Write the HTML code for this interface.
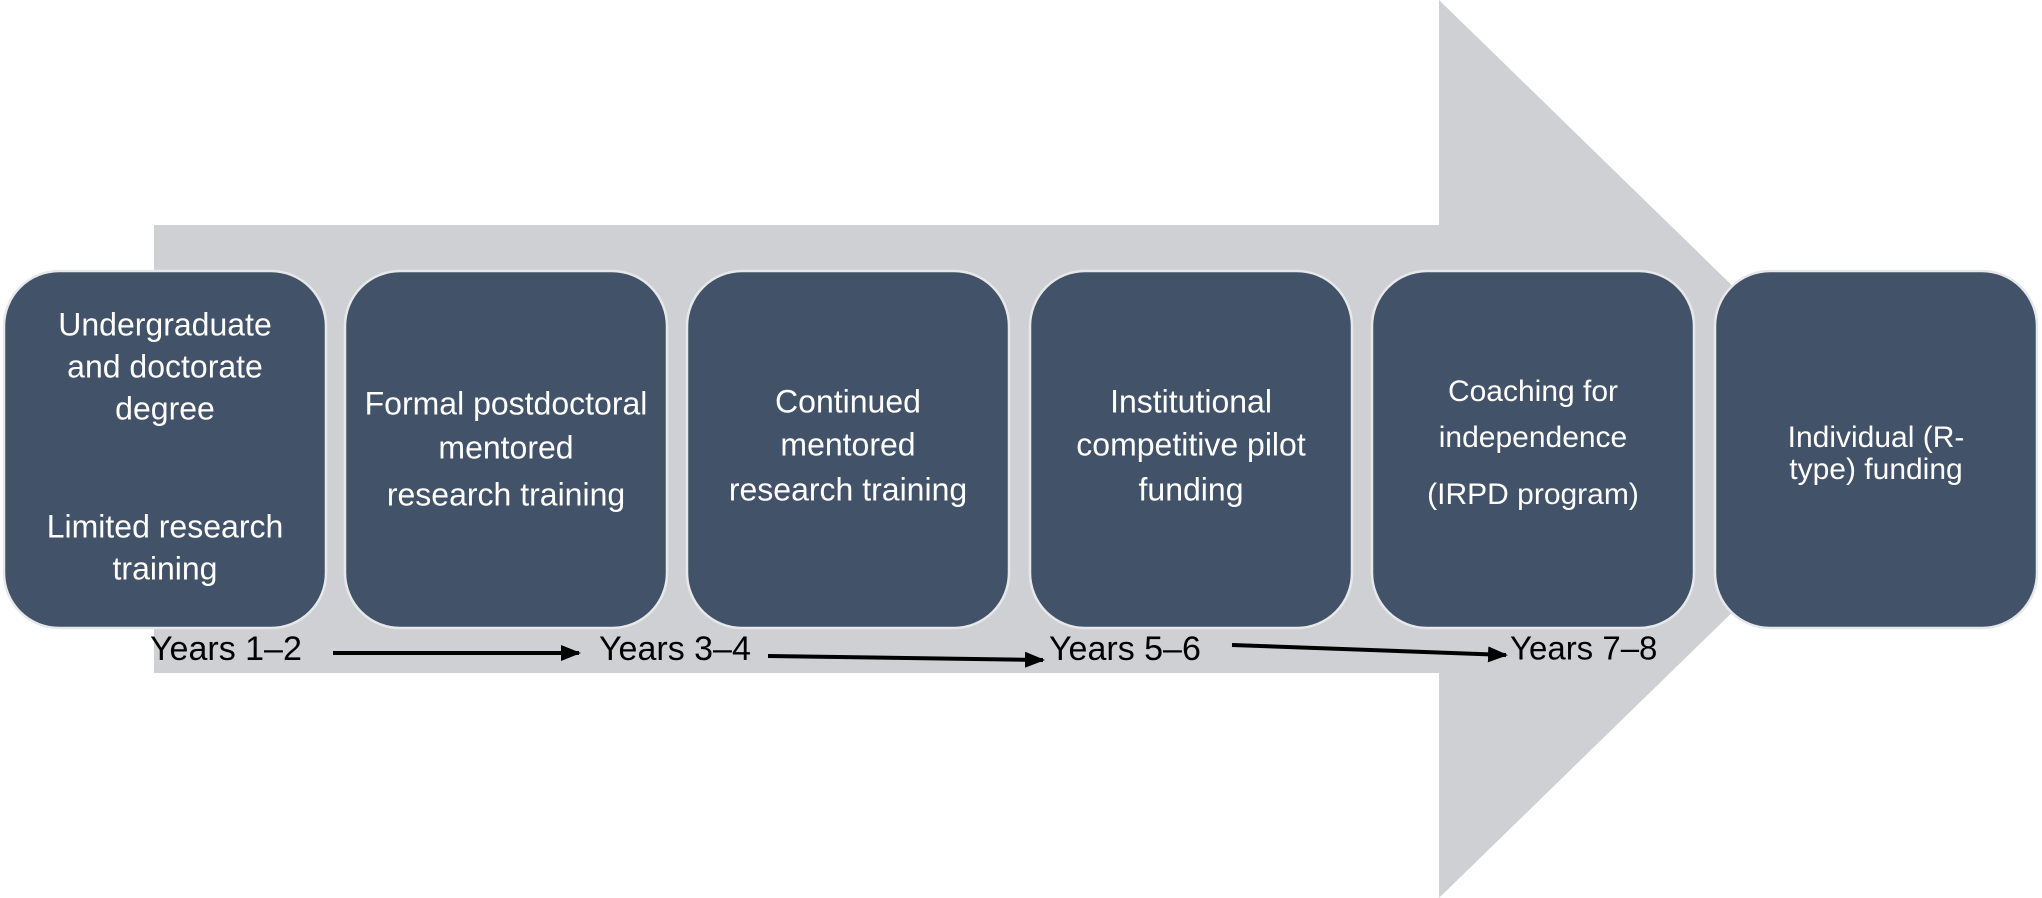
<!DOCTYPE html>
<html><head><meta charset="utf-8"><style>
html,body{margin:0;padding:0;background:#fff;}
svg{display:block;}
text{font-family:"Liberation Sans",sans-serif;}
.b{fill:#425269;stroke:#e6e8ea;stroke-width:2.5;}
.t{fill:#fff;font-size:32px;text-anchor:middle;dominant-baseline:middle;}
.y{fill:#000;font-size:34px;dominant-baseline:middle;}
</style></head><body>
<svg width="2042" height="898" viewBox="0 0 2042 898" xmlns="http://www.w3.org/2000/svg">
<defs><marker id="ah" markerWidth="5" markerHeight="4" refX="4.5" refY="2" orient="auto" markerUnits="strokeWidth"><path d="M0,0 L5,2 L0,4 z" fill="#000"/></marker></defs>
<polygon points="154,225 1439,225 1439,0 1900,449 1439,898 1439,673 154,673" fill="#cfd0d3"/>
<rect class="b" x="4" y="271" width="322" height="357" rx="55"/>
<rect class="b" x="345" y="271" width="322" height="357" rx="55"/>
<rect class="b" x="687" y="271" width="322" height="357" rx="55"/>
<rect class="b" x="1030" y="271" width="322" height="357" rx="55"/>
<rect class="b" x="1372" y="271" width="322" height="357" rx="55"/>
<rect class="b" x="1715" y="271" width="322" height="357" rx="55"/>
<text class="t" x="165" y="327">Undergraduate</text>
<text class="t" x="165" y="369">and  doctorate</text>
<text class="t" x="165" y="411">degree</text>
<text class="t" x="165" y="529">Limited research</text>
<text class="t" x="165" y="571">training</text>
<text class="t" x="506" y="406">Formal postdoctoral</text>
<text class="t" x="506" y="450">mentored</text>
<text class="t" x="506" y="497">research training</text>
<text class="t" x="848" y="404">Continued</text>
<text class="t" x="848" y="447">mentored</text>
<text class="t" x="848" y="492">research training</text>
<text class="t" x="1191" y="404">Institutional</text>
<text class="t" x="1191" y="447">competitive pilot</text>
<text class="t" x="1191" y="492">funding</text>
<text class="t" x="1533" y="393" style="font-size:30px">Coaching for</text>
<text class="t" x="1533" y="439" style="font-size:30px">independence</text>
<text class="t" x="1533" y="496" style="font-size:30px">(IRPD program)</text>
<text class="t" x="1876" y="439" style="font-size:30px">Individual (R-</text>
<text class="t" x="1876" y="471" style="font-size:30px">type) funding</text>
<text class="y" x="150" y="651">Years 1–2</text>
<text class="y" x="599" y="651">Years 3–4</text>
<text class="y" x="1049" y="651">Years 5–6</text>
<text class="y" x="1510" y="651" style="font-size:33px">Years 7–8</text>
<line x1="333" y1="653" x2="579" y2="653" stroke="#000" stroke-width="4" marker-end="url(#ah)"/>
<line x1="768" y1="656" x2="1043" y2="660" stroke="#000" stroke-width="4" marker-end="url(#ah)"/>
<line x1="1232" y1="645" x2="1506" y2="655" stroke="#000" stroke-width="4" marker-end="url(#ah)"/>
</svg>
</body></html>
